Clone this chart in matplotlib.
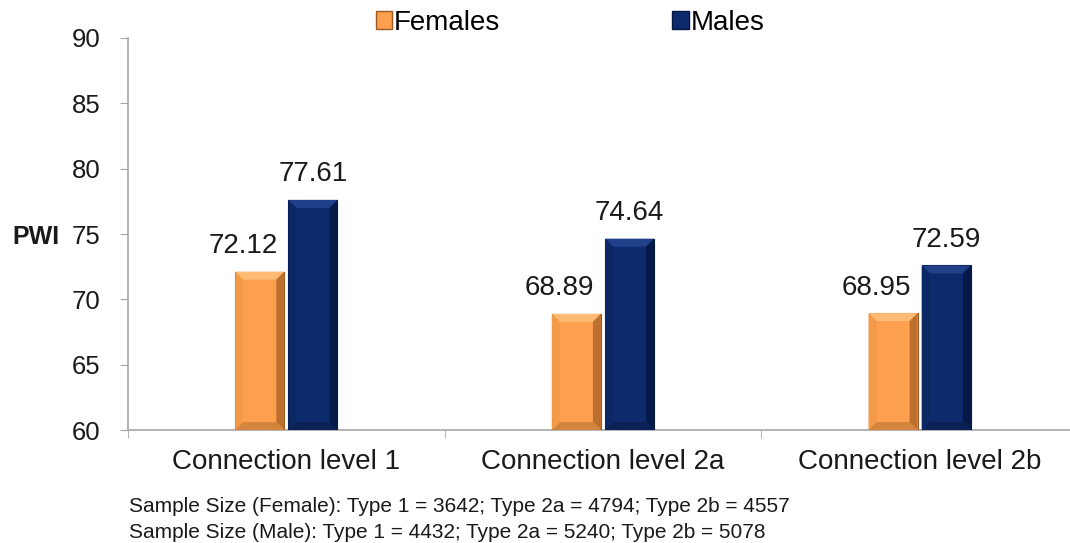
import matplotlib
matplotlib.use("Agg")
import matplotlib.pyplot as plt
import numpy as np
from matplotlib.patches import Patch, Polygon

plt.rcParams['font.family'] = ['Liberation Sans', 'DejaVu Sans']

categories = ["Connection level 1", "Connection level 2a", "Connection level 2b"]
females = [72.12, 68.89, 68.95]
males = [77.61, 74.64, 72.59]
yticks = [60, 65, 70, 75, 80, 85, 90]
footnotes = [
    "Sample Size (Female): Type 1 = 3642; Type 2a = 4794; Type 2b = 4557",
    "Sample Size (Male): Type 1 = 4432; Type 2a = 5240; Type 2b = 5078",
]

orange = "#FCA050"
orange_edge = "#9A5A22"
navy = "#0D2A6C"
navy_edge = "#051640"
axis_gray = "#A6A6A6"

fig = plt.figure(figsize=(10.70, 5.43), dpi=100)
ax = fig.add_axes([128/1070, 1-430/543, (1078-128)/1070, (430-38)/543])

x = np.arange(len(categories))
w = 0.155
off = 0.084
b1 = ax.bar(x - off, [v - 60 for v in females], w, bottom=60, color=orange,
            edgecolor=orange_edge, linewidth=0.8, zorder=3)
b2 = ax.bar(x + off, [v - 60 for v in males], w, bottom=60, color=navy,
            edgecolor=navy_edge, linewidth=0.8, zorder=3)

ax.set_xlim(-0.5, 2.5)
ax.set_ylim(60, 90)


def bevel(bars, top_c, left_c, right_c, bot_c, d=8):
    inv = fig.transFigure.inverted()
    for p in bars:
        x0, y0 = p.get_x(), p.get_y()
        x1, y1 = x0 + p.get_width(), y0 + p.get_height()
        (px0, py0), (px1, py1) = ax.transData.transform([(x0, y0), (x1, y1)])
        outer = [(px0, py1), (px1, py1), (px1, py0), (px0, py0)]
        inner = [(px0 + d, py1 - d), (px1 - d, py1 - d), (px1 - d, py0 + d), (px0 + d, py0 + d)]
        quads = [
            ([outer[0], outer[1], inner[1], inner[0]], top_c),
            ([outer[1], outer[2], inner[2], inner[1]], right_c),
            ([outer[2], outer[3], inner[3], inner[2]], bot_c),
            ([outer[3], outer[0], inner[0], inner[3]], left_c),
        ]
        for pts, c in quads:
            fig_pts = inv.transform(pts)
            fig.add_artist(Polygon(fig_pts, closed=True, facecolor=c, edgecolor="none",
                                   transform=fig.transFigure, zorder=4))


bevel(b1, "#FFBB74", "#F39A48", "#BD6F2E", "#D4843C")
bevel(b2, "#21408A", "#0C2864", "#061A48", "#0A2157")

for xi, v in zip(x - off, females):
    ax.annotate(f"{v:.2f}", (xi, v), xytext=(-12, 9), textcoords="offset points",
                ha="center", va="bottom", fontsize=20, color="#1a1a1a")
for xi, v in zip(x + off, males):
    ax.annotate(f"{v:.2f}", (xi, v), xytext=(0, 9), textcoords="offset points",
                ha="center", va="bottom", fontsize=20, color="#1a1a1a")

ax.set_yticks(yticks)
ax.set_yticklabels([str(t) for t in yticks], fontsize=18.5, color="#1a1a1a")
ax.set_xticks(x)
ax.set_xticklabels(categories, fontsize=20, color="#1a1a1a")
ax.set_xticks([-0.5, 0.5, 1.5, 2.5], minor=True)
ax.tick_params(axis="x", which="major", length=0, pad=14)
ax.tick_params(axis="x", which="minor", length=6, color=axis_gray, direction="out")
ax.tick_params(axis="y", length=6, color=axis_gray, pad=14)

for s in ["top", "right"]:
    ax.spines[s].set_visible(False)
for s in ["left", "bottom"]:
    ax.spines[s].set_color(axis_gray)
    ax.spines[s].set_linewidth(1.2)

fig.text(12/1070, 1-237/543, "PWI", fontsize=18, fontweight="bold",
         ha="left", va="center", color="#1a1a1a")

handles = [Patch(facecolor=orange, edgecolor=orange_edge, label="Females"),
           Patch(facecolor=navy, edgecolor=navy_edge, label="Males")]
fig.legend(handles=handles, loc="center", bbox_to_anchor=(570/1070, 1-23/543),
           ncol=2, frameon=False, fontsize=20, handlelength=0.6, handleheight=0.6,
           handletextpad=0.05, columnspacing=6.2)

fig.text(129/1070, 1-506/543, footnotes[0], fontsize=15, ha="left", va="center",
         color="#1a1a1a")
fig.text(129/1070, 1-532/543, footnotes[1], fontsize=15, ha="left", va="center",
         color="#1a1a1a")

fig.savefig("out.png", dpi=100)
